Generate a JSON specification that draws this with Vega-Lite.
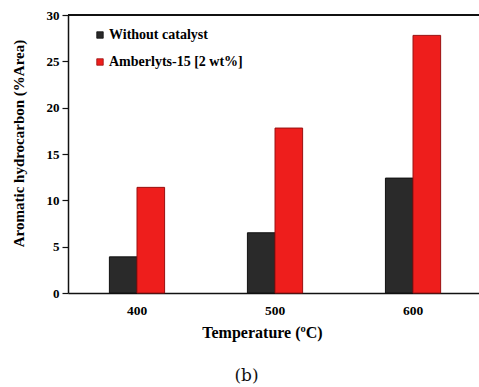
{
  "$schema": "https://vega.github.io/schema/vega-lite/v6.json",
  "autosize": "none",
  "width": 411,
  "height": 278,
  "padding": {"left": 68, "top": 15, "right": 0, "bottom": 94},
  "background": "white",
  "config": {
    "view": {"stroke": null},
    "font": "Liberation Serif",
    "axis": {"labelFont": "Liberation Serif", "titleFont": "Liberation Serif", "labelColor": "black", "titleColor": "black", "domainColor": "#111", "tickColor": "#111"}
  },
  "title": {
    "text": "(b)",
    "orient": "bottom",
    "anchor": "middle",
    "font": "DejaVu Serif",
    "fontSize": 17,
    "fontWeight": "normal",
    "color": "#111",
    "dx": -27,
    "offset": 27
  },
  "data": {
    "values": [
      {"temperature": "400", "series": "Without catalyst", "aromatic": 3.9},
      {"temperature": "400", "series": "Amberlyts-15 [2 wt%]", "aromatic": 11.4},
      {"temperature": "500", "series": "Without catalyst", "aromatic": 6.5},
      {"temperature": "500", "series": "Amberlyts-15 [2 wt%]", "aromatic": 17.8},
      {"temperature": "600", "series": "Without catalyst", "aromatic": 12.4},
      {"temperature": "600", "series": "Amberlyts-15 [2 wt%]", "aromatic": 27.8}
    ]
  },
  "encoding": {
    "x": {
      "field": "temperature",
      "type": "nominal",
      "sort": ["400", "500", "600"],
      "scale": {"paddingInner": 0.6, "paddingOuter": 0.289, "align": 0.519},
      "axis": {
        "title": "Temperature (ºC)",
        "labelAngle": 0,
        "labelFontSize": 13.5,
        "labelFontWeight": "bold",
        "labelPadding": 10,
        "ticks": false,
        "domainWidth": 1.5,
        "titleFontSize": 16,
        "titleFontWeight": "bold",
        "titlePadding": 8,
        "titleX": 194
      }
    },
    "xOffset": {
      "field": "series",
      "type": "nominal",
      "scale": {"domain": ["Without catalyst", "Amberlyts-15 [2 wt%]"], "paddingInner": 0, "paddingOuter": 0}
    },
    "y": {
      "field": "aromatic",
      "type": "quantitative",
      "scale": {"domain": [0, 30], "nice": false},
      "axis": {
        "title": "Aromatic hydrocarbon (%Area)",
        "values": [0, 5, 10, 15, 20, 25, 30],
        "grid": false,
        "tickSize": 6,
        "tickWidth": 1.2,
        "labelPadding": 3,
        "labelFontSize": 13,
        "labelFontWeight": "bold",
        "domainWidth": 1.5,
        "titleFontSize": 15,
        "titleFontWeight": "bold",
        "titleX": -50,
        "titleY": 128,
        "titleBaseline": "middle",
        "titleAnchor": "middle"
      }
    },
    "color": {
      "field": "series",
      "type": "nominal",
      "scale": {"domain": ["Without catalyst", "Amberlyts-15 [2 wt%]"], "range": ["#2a2a2a", "#ee1e1c"]},
      "legend": {
        "title": null,
        "orient": "none",
        "legendX": 25,
        "legendY": 13,
        "symbolType": "square",
        "symbolSize": 42,
        "symbolStrokeColor": "#444",
        "symbolStrokeWidth": 0.8,
        "labelFont": "Liberation Serif",
        "labelFontSize": 14,
        "labelFontWeight": "bold",
        "labelColor": "black",
        "labelOffset": 2,
        "rowPadding": 13
      }
    },
    "stroke": {
      "field": "series",
      "type": "nominal",
      "scale": {"domain": ["Without catalyst", "Amberlyts-15 [2 wt%]"], "range": ["#111111", "#9a1010"]},
      "legend": null
    }
  },
  "layer": [
    {
      "mark": {"type": "bar", "strokeWidth": 1}
    },
    {
      "mark": {"type": "rule", "color": "#111", "strokeWidth": 1.8},
      "encoding": {
        "y": {"datum": 30, "type": "quantitative"},
        "x": null, "xOffset": null, "color": null, "stroke": null
      }
    }
  ]
}
